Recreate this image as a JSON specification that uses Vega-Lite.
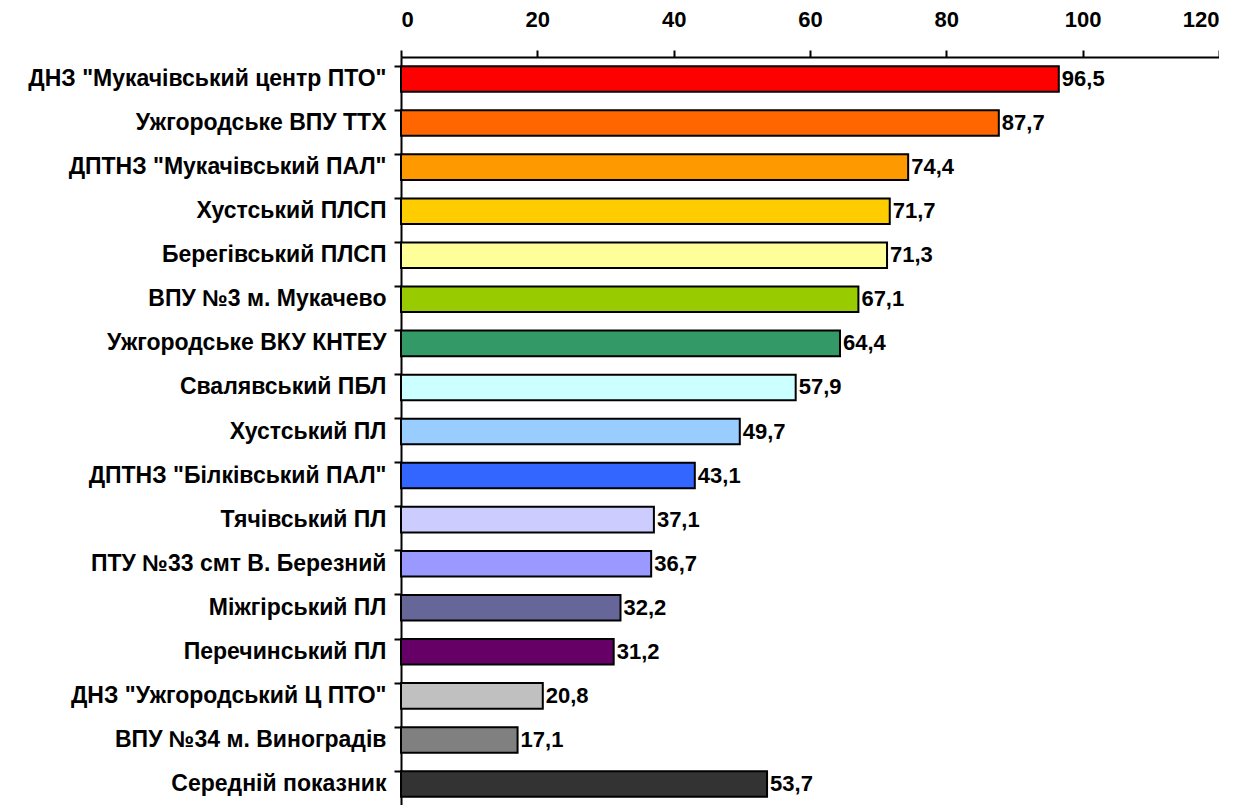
{
  "$schema": "https://vega.github.io/schema/vega-lite/v6.json",
  "autosize": "none",
  "padding": {"left": 401, "top": 57, "right": 0, "bottom": 0},
  "width": 818,
  "height": 749,
  "background": "white",
  "config": {
    "view": {"stroke": null},
    "locale": {"number": {"decimal": ",", "thousands": " ", "grouping": [3], "currency": ["", ""]}},
    "font": "Liberation Sans"
  },
  "data": {
    "values": [
      {"name": "ДНЗ \"Мукачівський центр ПТО\"", "value": 96.5, "color": "#FF0000"},
      {"name": "Ужгородське ВПУ ТТХ", "value": 87.7, "color": "#FF6600"},
      {"name": "ДПТНЗ \"Мукачівський ПАЛ\"", "value": 74.4, "color": "#FF9900"},
      {"name": "Хустський ПЛСП", "value": 71.7, "color": "#FFCC00"},
      {"name": "Берегівський ПЛСП", "value": 71.3, "color": "#FFFF99"},
      {"name": "ВПУ №3 м. Мукачево", "value": 67.1, "color": "#99CC00"},
      {"name": "Ужгородське ВКУ КНТЕУ", "value": 64.4, "color": "#339966"},
      {"name": "Свалявський ПБЛ", "value": 57.9, "color": "#CCFFFF"},
      {"name": "Хустський ПЛ", "value": 49.7, "color": "#99CCFF"},
      {"name": "ДПТНЗ \"Білківський ПАЛ\"", "value": 43.1, "color": "#3366FF"},
      {"name": "Тячівський ПЛ", "value": 37.1, "color": "#CCCCFF"},
      {"name": "ПТУ №33 смт В. Березний", "value": 36.7, "color": "#9999FF"},
      {"name": "Міжгірський ПЛ", "value": 32.2, "color": "#666699"},
      {"name": "Перечинський ПЛ", "value": 31.2, "color": "#660066"},
      {"name": "ДНЗ \"Ужгородський Ц ПТО\"", "value": 20.8, "color": "#C0C0C0"},
      {"name": "ВПУ №34 м. Виноградів", "value": 17.1, "color": "#808080"},
      {"name": "Середній показник", "value": 53.7, "color": "#333333"}
    ]
  },
  "encoding": {
    "y": {
      "field": "name",
      "type": "nominal",
      "sort": null,
      "title": null,
      "scale": {"paddingInner": 0.42, "paddingOuter": 0.21},
      "axis": {
        "bandPosition": 0,
        "domainColor": "black",
        "domainWidth": 2,
        "tickColor": "black",
        "tickWidth": 2,
        "tickSize": 7,
        "labelFont": "Liberation Sans",
        "labelFontSize": 23,
        "labelFontWeight": "bold",
        "labelColor": "black",
        "labelPadding": 8,
        "labelLimit": 420
      }
    },
    "x": {
      "field": "value",
      "type": "quantitative",
      "title": null,
      "scale": {"domain": [0, 120], "nice": false},
      "axis": {
        "orient": "top",
        "values": [0, 20, 40, 60, 80, 100, 120],
        "grid": false,
        "domainColor": "black",
        "domainWidth": 2,
        "tickColor": "black",
        "tickWidth": 2,
        "tickSize": 7,
        "labelFont": "Liberation Sans",
        "labelFontSize": 22,
        "labelFontWeight": "bold",
        "labelColor": "black",
        "labelPadding": 19,
        "format": "d"
      }
    }
  },
  "layer": [
    {
      "mark": {"type": "bar", "stroke": "black", "strokeWidth": 2},
      "encoding": {
        "color": {"field": "color", "type": "nominal", "scale": null}
      }
    },
    {
      "mark": {"type": "text", "align": "left", "baseline": "middle", "dx": 3, "font": "Liberation Sans", "fontSize": 22, "fontWeight": "bold", "color": "black"},
      "encoding": {
        "text": {"field": "value", "type": "quantitative", "format": ".1f"}
      }
    }
  ]
}
